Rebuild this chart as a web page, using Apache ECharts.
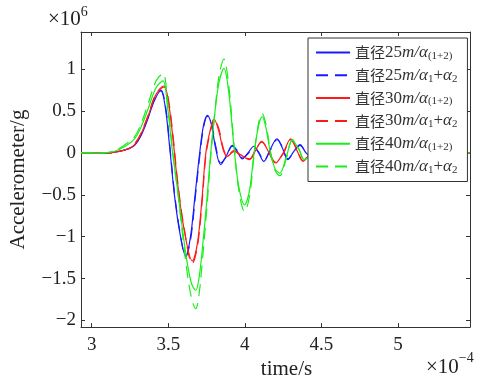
<!DOCTYPE html>
<html><head><meta charset="utf-8">
<script src="https://cdn.jsdelivr.net/npm/echarts@6/dist/echarts.min.js"></script>
<style>html,body{margin:0;padding:0;background:#fff}#c{width:486px;height:385px}</style>
</head><body><div id="c"></div>
<script>
// ---- data (time in 1e-4 s, acceleration in 1e6 g) ----
const seriesNames = ['直径25m/α(1+2)', '直径25m/α1+α2', '直径30m/α(1+2)', '直径30m/α1+α2', '直径40m/α(1+2)', '直径40m/α1+α2'];
const xTicks = [3, 3.5, 4, 4.5, 5];
const yTicks = [-2, -1.5, -1, -0.5, 0, 0.5, 1];

const tBlue = [2.93, 3.10, 3.18, 3.24, 3.28, 3.32, 3.365, 3.41, 3.451, 3.48, 3.51, 3.54, 3.575, 3.614, 3.645, 3.675, 3.705, 3.73, 3.755, 3.78, 3.81, 3.842, 3.88, 3.918, 3.95, 3.983, 4.02, 4.059, 4.09, 4.124, 4.165, 4.21, 4.245, 4.28, 4.32, 4.36, 4.40, 4.45, 4.50, 4.60, 5.47];
const blue25a = [0, 0, 0.02, 0.05, 0.09, 0.20, 0.40, 0.63, 0.74, 0.55, 0.05, -0.50, -0.95, -1.23, -1.00, -0.50, 0.00, 0.33, 0.45, 0.35, 0.05, -0.14, -0.03, 0.09, 0.02, -0.07, 0.00, 0.08, 0.00, -0.10, 0.04, 0.17, 0.06, -0.08, 0.02, 0.10, 0.00, -0.06, 0.02, 0, 0];
const blue25b = [0, 0, 0.02, 0.05, 0.10, 0.21, 0.41, 0.64, 0.75, 0.58, 0.08, -0.47, -0.93, -1.24, -1.04, -0.55, -0.04, 0.30, 0.44, 0.37, 0.08, -0.12, -0.04, 0.08, 0.03, -0.06, -0.01, 0.07, 0.01, -0.09, 0.03, 0.16, 0.07, -0.07, 0.01, 0.09, 0.01, -0.05, 0.02, 0, 0];

const tRed = [2.93, 3.10, 3.18, 3.24, 3.28, 3.32, 3.37, 3.42, 3.473, 3.50, 3.53, 3.56, 3.60, 3.657, 3.69, 3.72, 3.745, 3.775, 3.80, 3.83, 3.86, 3.885, 3.93, 3.97, 4.03, 4.07, 4.11, 4.15, 4.20, 4.25, 4.30, 4.34, 4.38, 4.43, 4.48, 4.55, 4.70, 5.47];
const red30a = [0, 0, 0.02, 0.05, 0.10, 0.22, 0.45, 0.70, 0.79, 0.62, 0.18, -0.35, -0.88, -1.29, -1.08, -0.55, 0.00, 0.28, 0.40, 0.26, 0.03, -0.04, 0.02, -0.02, -0.08, 0.03, 0.14, 0.03, -0.12, 0.00, 0.17, 0.03, -0.10, 0.00, 0.06, 0.00, 0, 0];
const red30b = [0, 0, 0.02, 0.05, 0.11, 0.23, 0.46, 0.71, 0.80, 0.65, 0.22, -0.32, -0.86, -1.32, -1.12, -0.60, -0.04, 0.26, 0.41, 0.29, 0.05, -0.03, 0.03, -0.03, -0.07, 0.04, 0.13, 0.04, -0.11, -0.01, 0.16, 0.04, -0.09, 0.01, 0.05, 0.00, 0, 0];

const tGreen = [2.93, 3.08, 3.15, 3.21, 3.278, 3.32, 3.365, 3.42, 3.465, 3.495, 3.527, 3.564, 3.614, 3.65, 3.679, 3.70, 3.722, 3.75, 3.777, 3.805, 3.831, 3.863, 3.895, 3.93, 3.96, 3.998, 4.03, 4.06, 4.09, 4.113, 4.14, 4.167, 4.20, 4.228, 4.27, 4.31, 4.35, 4.39, 4.44, 4.50, 4.60, 5.47];
const green40a = [0, 0, 0.02, 0.07, 0.165, 0.30, 0.51, 0.78, 0.86, 0.55, 0.02, -0.49, -1.20, -1.55, -1.64, -1.50, -1.15, -0.60, 0.00, 0.50, 0.84, 1.01, 0.72, 0.05, -0.40, -0.62, -0.45, 0.00, 0.33, 0.43, 0.28, 0.00, -0.20, -0.24, -0.05, 0.15, 0.05, -0.08, 0.00, 0.04, 0, 0];
const green40b = [0, 0, 0.03, 0.09, 0.19, 0.34, 0.57, 0.86, 0.95, 0.62, 0.05, -0.50, -1.30, -1.72, -1.86, -1.70, -1.30, -0.70, -0.05, 0.50, 0.92, 1.12, 0.80, 0.08, -0.44, -0.70, -0.52, -0.03, 0.36, 0.47, 0.32, 0.02, -0.22, -0.27, -0.07, 0.16, 0.06, -0.09, 0.00, 0.04, 0, 0];

// ---- build ----
const zip = (t, v) => t.map((x, i) => [x, v[i]]);
const seriesData = [zip(tBlue, blue25a), zip(tBlue, blue25b), zip(tRed, red30a), zip(tRed, red30b), zip(tGreen, green40a), zip(tGreen, green40b)];
const colors = ['#1a1aff', '#1a1aff', '#ff1a1a', '#ff1a1a', '#1aee1a', '#1aee1a'];
const dashed = [false, true, false, true, false, true];

const SERIF = '"Liberation Serif","Times New Roman",serif';
const CJK = '"Noto Sans CJK SC",sans-serif';

function legendFmt(name) {
  const m = name.match(/^直径(\d+)m\/(.*)$/);
  let s = '{cn|直径}{n|' + m[1] + '}{it|m/α}';
  if (m[2] === 'α(1+2)') s += '{sub|(1+2)}';
  else s += '{sub|1}{n|+}{it|α}{sub|2}';
  return s;
}
const minusFmt = v => String(v).replace('-', '−');

const chart = echarts.init(document.getElementById('c'), null, {renderer: 'canvas'});
const axisLineStyle = {color: '#333', width: 1};
chart.setOption({
  animation: false,
  backgroundColor: '#fff',
  grid: {left: 80, top: 32, right: 16, bottom: 46, containLabel: false},
  xAxis: [{
    type: 'value', min: 2.93, max: 5.47, position: 'bottom',
    name: 'time/s', nameLocation: 'middle', nameGap: 26,
    nameTextStyle: {fontFamily: SERIF, fontSize: 21, color: '#222', padding: [0, 0, 0, 22]},
    axisLine: {show: true, onZero: false, lineStyle: axisLineStyle},
    axisTick: {show: true, inside: true, length: 4, customValues: xTicks, lineStyle: axisLineStyle},
    axisLabel: {customValues: xTicks, fontFamily: SERIF, fontSize: 19, color: '#222', margin: 8, formatter: minusFmt},
    splitLine: {show: false}
  }, {
    type: 'value', min: 2.93, max: 5.47, position: 'top',
    axisLine: {show: true, onZero: false, lineStyle: axisLineStyle},
    axisTick: {show: true, inside: true, length: 4, customValues: xTicks, lineStyle: axisLineStyle},
    axisLabel: {show: false},
    splitLine: {show: false}
  }],
  yAxis: [{
    type: 'value', min: -2.08, max: 1.445, position: 'left',
    name: 'Accelerometer/g', nameLocation: 'middle', nameGap: 52,
    nameTextStyle: {fontFamily: SERIF, fontSize: 21, color: '#222'},
    axisLine: {show: true, onZero: false, lineStyle: axisLineStyle},
    axisTick: {show: true, inside: true, length: 4, customValues: yTicks, lineStyle: axisLineStyle},
    axisLabel: {customValues: yTicks, fontFamily: SERIF, fontSize: 19, color: '#222', margin: 5, formatter: minusFmt},
    splitLine: {show: false}
  }, {
    type: 'value', min: -2.08, max: 1.445, position: 'right',
    axisLine: {show: true, onZero: false, lineStyle: axisLineStyle},
    axisTick: {show: true, inside: true, length: 4, customValues: yTicks, lineStyle: axisLineStyle},
    axisLabel: {show: false},
    splitLine: {show: false}
  }],
  legend: {
    orient: 'vertical', left: 308, top: 38,
    padding: [6, 10, 6, 7], itemGap: 5.3, itemWidth: 34, itemHeight: 12,
    backgroundColor: '#fff', borderColor: '#333', borderWidth: 1, borderRadius: 0,
    itemStyle: {opacity: 0},
    data: seriesNames,
    formatter: legendFmt,
    textStyle: {
      color: '#333',
      rich: {
        cn: {fontFamily: CJK, fontSize: 15, color: '#333', lineHeight: 18},
        n: {fontFamily: SERIF, fontSize: 17, color: '#333', lineHeight: 18},
        it: {fontFamily: SERIF, fontStyle: 'italic', fontSize: 17, color: '#333', lineHeight: 18},
        sub: {fontFamily: SERIF, fontSize: 11, color: '#333', lineHeight: 10, verticalAlign: 'bottom'}
      }
    }
  },
  graphic: [
    {type: 'text', left: 48, top: 5, style: {text: '{a|×10}{s|6}', rich: {
      a: {fontFamily: SERIF, fontSize: 21, fill: '#222', lineHeight: 25, verticalAlign: 'bottom'},
      s: {fontFamily: SERIF, fontSize: 14, fill: '#222', lineHeight: 25, verticalAlign: 'top'}}}},
    {type: 'text', left: 426, top: 351, style: {text: '{a|×10}{s|−4}', rich: {
      a: {fontFamily: SERIF, fontSize: 21, fill: '#222', lineHeight: 27, verticalAlign: 'bottom'},
      s: {fontFamily: SERIF, fontSize: 14, fill: '#222', lineHeight: 27, verticalAlign: 'top'}}}}
  ],
  series: seriesNames.map((n, i) => ({
    name: n, type: 'line', xAxisIndex: 0, yAxisIndex: 0,
    data: seriesData[i], symbol: 'none', showSymbol: false, smooth: 0.35,
    lineStyle: {color: colors[i], width: 1.2, type: dashed[i] ? [12, 7] : 'solid'},
    itemStyle: {color: colors[i]}
  }))
});
</script>
</body></html>
